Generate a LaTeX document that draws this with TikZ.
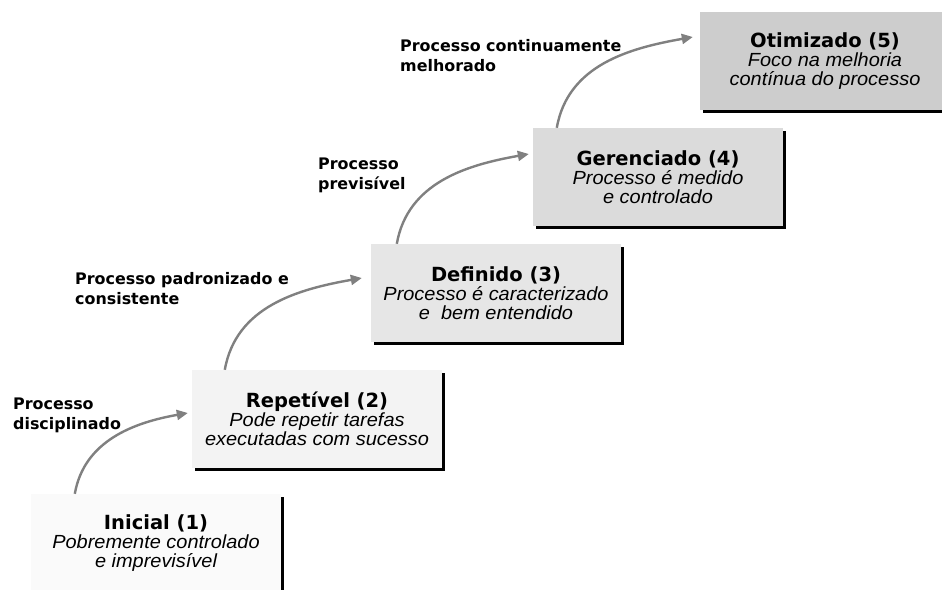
\documentclass[tikz,border=0pt]{standalone}
\usepackage{fontspec}
\usetikzlibrary{arrows.meta,shadows,calc}
\newfontfamily\headfont{DejaVu Sans}
\newfontfamily\bodyfont{Liberation Sans Italic}[FakeStretch=1.05]
\definecolor{arrowgray}{HTML}{808080}
\definecolor{lvlone}{HTML}{FAFAFA}
\definecolor{lvltwo}{HTML}{F3F3F3}
\definecolor{lvlthree}{HTML}{E6E6E6}
\definecolor{lvlfour}{HTML}{DBDBDB}
\definecolor{lvlfive}{HTML}{CDCDCD}
\newcommand\lvltitle[1]{{\headfont\bfseries\fontsize{19.5}{19}\selectfont #1}}
\begin{document}
\begin{tikzpicture}[x=1pt,y=-1pt,
  level/.style={minimum width=250pt, minimum height=98pt, inner sep=0pt, align=center,
    font=\bodyfont\fontsize{19}{19}\selectfont,
    drop shadow={shadow xshift=3pt,shadow yshift=-3pt,fill=black,opacity=1}},
  steparrow/.style={draw=arrowgray, line width=2.4pt, -{Triangle[length=11pt,width=10pt]}, out=80, in=190},
  note/.style={anchor=north west, align=left, inner sep=0pt,
    font=\headfont\bfseries\fontsize{15.9}{20}\selectfont}]
\clip (0,0) rectangle (942,589);
\fill[white] (0,0) rectangle (942,589);

% maturity levels
\node[level, fill=lvlone]   (b1) at (156,543) {\lvltitle{Inicial (1)}\\Pobremente controlado\\e imprevisível};
\node[level, fill=lvltwo]   (b2) at (317,419) {\lvltitle{Repetível (2)}\\Pode repetir tarefas\\executadas com sucesso};
\node[level, fill=lvlthree] (b3) at (496,293) {\lvltitle{Definido (3)}\\Processo é caracterizado\\e\ \ bem entendido};
\node[level, fill=lvlfour]  (b4) at (658,177) {\lvltitle{Gerenciado (4)}\\Processo é medido\\e controlado};
\node[level, fill=lvlfive]  (b5) at (825,61)  {\lvltitle{Otimizado (5)}\\Foco na melhoria\\contínua do processo};

% transition labels
\node[note] (t1) at (13,398)  {Processo\\disciplinado};
\node[note] (t2) at (75,272)  {Processo padronizado e\\consistente};
\node[note] (t3) at (318,158) {Processo\\previsível};
\node[note] (t4) at (400,39)  {Processo continuamente\\melhorado};

% arrow end points
\coordinate (s1) at ($(b1.north west)+(44,0)$);
\coordinate (e1) at ($(b2.west)+(-4,-6)$);
\coordinate (s2) at ($(b2.north west)+(33,0)$);
\coordinate (e2) at ($(b3.west)+(-9,-15)$);
\coordinate (s3) at ($(b3.north west)+(26,0)$);
\coordinate (e3) at ($(b4.west)+(-4,-23)$);
\coordinate (s4) at ($(b4.north west)+(24,0)$);
\coordinate (e4) at ($(b5.west)+(-7,-24)$);

\draw[steparrow] (s1) to (e1);
\draw[steparrow] (s2) to (e2);
\draw[steparrow] (s3) to (e3);
\draw[steparrow] (s4) to (e4);
\end{tikzpicture}
\end{document}
